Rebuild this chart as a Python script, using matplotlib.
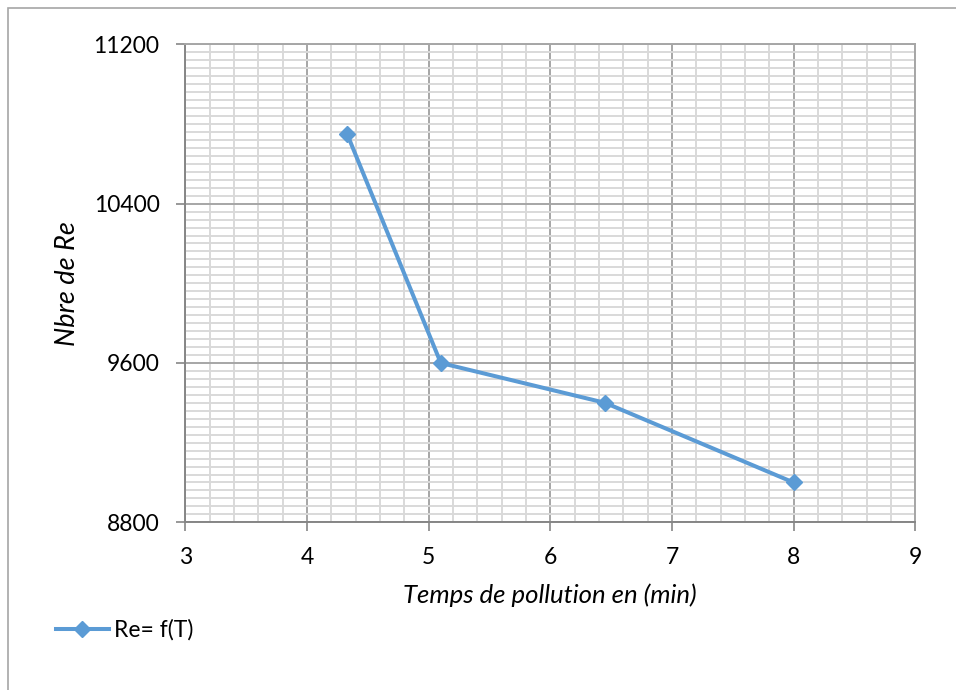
import matplotlib.pyplot as plt
from matplotlib.ticker import MultipleLocator
from matplotlib.patches import Rectangle

plt.rcParams['font.family'] = ['Lato', 'DejaVu Sans']

# temps de pollution (min) et nombre de Reynolds
temps = [4.33, 5.1, 6.45, 8.0]
reynolds = [10750, 9600, 9400, 9000]

fig = plt.figure(figsize=(9.56, 6.9), dpi=100)
ax = fig.add_axes([0.1938, 0.2430, 0.7636, 0.6928])

# cadre du graphique
fig.patches.append(Rectangle((7.5 / 956, -0.1), 1.2, 1 - 8.5 / 690 + 0.1,
                             transform=fig.transFigure, fill=False,
                             edgecolor='#a6a6a6', linewidth=1.2))

ax.plot(temps, reynolds, color='#5b9bd5', linewidth=2.9, marker='D',
        markersize=8.5, label='Re= f(T)', zorder=3)

ax.set_xlim(3, 9)
ax.set_ylim(8800, 11200)
ax.xaxis.set_major_locator(MultipleLocator(1))
ax.xaxis.set_minor_locator(MultipleLocator(0.2))
ax.yaxis.set_major_locator(MultipleLocator(800))
ax.yaxis.set_minor_locator(MultipleLocator(40))

ax.grid(which='minor', color='#d9d9d9', linewidth=1.4)
ax.grid(which='major', color='#a6a6a6', linewidth=1.4)
ax.set_axisbelow(True)

for s in ax.spines.values():
    s.set_color('#a6a6a6')
    s.set_linewidth(1.4)
ax.spines['left'].set_color('#868686')
ax.spines['bottom'].set_color('#868686')

ax.tick_params(which='major', direction='out', length=6.5, width=1.2,
               color='#868686', labelsize=16.5)
ax.tick_params(axis='x', pad=11)
ax.tick_params(axis='y', pad=12)
ax.tick_params(which='minor', length=0)

ax.set_xlabel('Temps de pollution en (min)', fontsize=18.5, style='italic',
              va='center')
ax.set_ylabel('Nbre de Re', fontsize=19.5, style='italic', va='center')
ax.xaxis.set_label_coords(0.5, -0.152)
ax.yaxis.set_label_coords(-0.162, 0.5)

ax.legend(loc='center left', bbox_to_anchor=(40 / 956, 1 - 630 / 690),
          bbox_transform=fig.transFigure, frameon=False, fontsize=16.5,
          handlelength=2.3, handletextpad=0.25, borderpad=0.2)

fig.savefig('out.png', dpi=100)
